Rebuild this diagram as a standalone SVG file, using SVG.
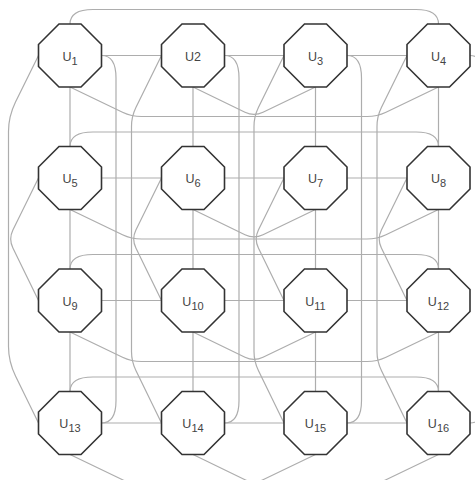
<svg xmlns="http://www.w3.org/2000/svg" width="475" height="480" viewBox="0 0 475 480">
<style>
.e{fill:none;stroke:#adadad;stroke-width:1.2}
.n{fill:#fff;stroke:#333;stroke-width:1.6}
.l{font-family:"Liberation Sans",Arial,sans-serif;font-size:12.5px;fill:#444;text-anchor:middle}
.s{font-size:11px}
</style>
<defs>
<polygon id="oct" points="-11,-31.5 11,-31.5 31.5,-11 31.5,11 11,31.5 -11,31.5 -31.5,11 -31.5,-11"/>
</defs>
<rect width="475" height="480" fill="#fff"/>
<g id="connectors">
<!-- mesh horizontal -->
<path class="e" d="M101.5 55.5H161.5M224.5 55.5H284M347 55.5H407"/>
<path class="e" d="M101.5 178H161.5M224.5 178H284M347 178H407"/>
<path class="e" d="M101.5 300.5H161.5M224.5 300.5H284M347 300.5H407"/>
<path class="e" d="M101.5 423H161.5M224.5 423H284M347 423H407"/>
<!-- mesh vertical -->
<path class="e" d="M70 87V146.5M70 209.5V269M70 332V391.5"/>
<path class="e" d="M193 87V146.5M193 209.5V269M193 332V391.5"/>
<path class="e" d="M315.5 87V146.5M315.5 209.5V269M315.5 332V391.5"/>
<path class="e" d="M438.5 87V146.5M438.5 209.5V269M438.5 332V391.5"/>
<!-- row wraps -->
<path class="e" d="M70 24Q70 9.5 93 9.5L416 9.5Q438.5 9.5 438.5 24"/>
<path class="e" d="M70 146.5Q70 132 93 132L416 132Q438.5 132 438.5 146.5"/>
<path class="e" d="M70 269Q70 254.5 93 254.5L416 254.5Q438.5 254.5 438.5 269"/>
<path class="e" d="M70 391.5Q70 377 93 377L416 377Q438.5 377 438.5 391.5"/>
<!-- column wraps -->
<path class="e" d="M101.5 55.5Q116 55.5 116 78L116 400.5Q116 423 101.5 423"/>
<path class="e" d="M224.5 55.5Q239 55.5 239 78L239 400.5Q239 423 224.5 423"/>
<path class="e" d="M347 55.5Q361.5 55.5 361.5 78L361.5 400.5Q361.5 423 347 423"/>
<path class="e" d="M470 55.5Q484.5 55.5 484.5 78L484.5 400.5Q484.5 423 470 423"/>
<!-- row buses -->
<path class="e" d="M70 87L122.5 112.2Q131.5 116.5 141.5 116.5L367 116.5Q377 116.5 386 112.2L438.5 87"/>
<path class="e" d="M70 209.5L122.5 234.7Q131.5 239 141.5 239L367 239Q377 239 386 234.7L438.5 209.5"/>
<path class="e" d="M70 332L122.5 357.2Q131.5 361.5 141.5 361.5L367 361.5Q377 361.5 386 357.2L438.5 332"/>
<path class="e" d="M70 454.5L122.5 479.7Q131.5 484 141.5 484L367 484Q377 484 386 479.7L438.5 454.5"/>
<path class="e" d="M193 87L245 112.2Q254 116.5 263 112.2L315.5 87"/>
<path class="e" d="M193 209.5L245 234.7Q254 239 263 234.7L315.5 209.5"/>
<path class="e" d="M193 332L245 357.2Q254 361.5 263 357.2L315.5 332"/>
<path class="e" d="M193 454.5L245 479.7Q254 484 263 479.7L315.5 454.5"/>
<!-- column buses -->
<path class="e" d="M38.5 55.5L15.5 102Q8.5 116.5 8.5 131.5L8.5 346.5Q8.5 361.5 15.5 376L38.5 423"/>
<path class="e" d="M161.5 55.5L135.9 107.5Q131.5 116.5 131.5 126.5L131.5 351.5Q131.5 361.5 135.9 370.5L161.5 423"/>
<path class="e" d="M284 55.5L258.4 107.5Q254 116.5 254 126.5L254 351.5Q254 361.5 258.4 370.5L284 423"/>
<path class="e" d="M407 55.5L381.4 107.5Q377 116.5 377 126.5L377 351.5Q377 361.5 381.4 370.5L407 423"/>
<path class="e" d="M38.5 178L12.9 230Q8.5 239 12.9 248L38.5 300.5"/>
<path class="e" d="M161.5 178L135.9 230Q131.5 239 135.9 248L161.5 300.5"/>
<path class="e" d="M284 178L258.4 230Q254 239 258.4 248L284 300.5"/>
<path class="e" d="M407 178L381.4 230Q377 239 381.4 248L407 300.5"/>
</g>
<g id="U1" transform="translate(70,55.5)"><use href="#oct" class="n"/><text class="l" y="5">U<tspan class="s" dy="4">1</tspan></text></g>
<g id="U2" transform="translate(193,55.5)"><use href="#oct" class="n"/><text class="l" y="5">U2</text></g>
<g id="U3" transform="translate(315.5,55.5)"><use href="#oct" class="n"/><text class="l" y="5">U<tspan class="s" dy="4">3</tspan></text></g>
<g id="U4" transform="translate(438.5,55.5)"><use href="#oct" class="n"/><text class="l" y="5">U<tspan class="s" dy="4">4</tspan></text></g>
<g id="U5" transform="translate(70,178)"><use href="#oct" class="n"/><text class="l" y="5">U<tspan class="s" dy="4">5</tspan></text></g>
<g id="U6" transform="translate(193,178)"><use href="#oct" class="n"/><text class="l" y="5">U<tspan class="s" dy="4">6</tspan></text></g>
<g id="U7" transform="translate(315.5,178)"><use href="#oct" class="n"/><text class="l" y="5">U<tspan class="s" dy="4">7</tspan></text></g>
<g id="U8" transform="translate(438.5,178)"><use href="#oct" class="n"/><text class="l" y="5">U<tspan class="s" dy="4">8</tspan></text></g>
<g id="U9" transform="translate(70,300.5)"><use href="#oct" class="n"/><text class="l" y="5">U<tspan class="s" dy="4">9</tspan></text></g>
<g id="U10" transform="translate(193,300.5)"><use href="#oct" class="n"/><text class="l" y="5">U<tspan class="s" dy="4">10</tspan></text></g>
<g id="U11" transform="translate(315.5,300.5)"><use href="#oct" class="n"/><text class="l" y="5">U<tspan class="s" dy="4">11</tspan></text></g>
<g id="U12" transform="translate(438.5,300.5)"><use href="#oct" class="n"/><text class="l" y="5">U<tspan class="s" dy="4">12</tspan></text></g>
<g id="U13" transform="translate(70,423)"><use href="#oct" class="n"/><text class="l" y="5">U<tspan class="s" dy="4">13</tspan></text></g>
<g id="U14" transform="translate(193,423)"><use href="#oct" class="n"/><text class="l" y="5">U<tspan class="s" dy="4">14</tspan></text></g>
<g id="U15" transform="translate(315.5,423)"><use href="#oct" class="n"/><text class="l" y="5">U<tspan class="s" dy="4">15</tspan></text></g>
<g id="U16" transform="translate(438.5,423)"><use href="#oct" class="n"/><text class="l" y="5">U<tspan class="s" dy="4">16</tspan></text></g>
</svg>
